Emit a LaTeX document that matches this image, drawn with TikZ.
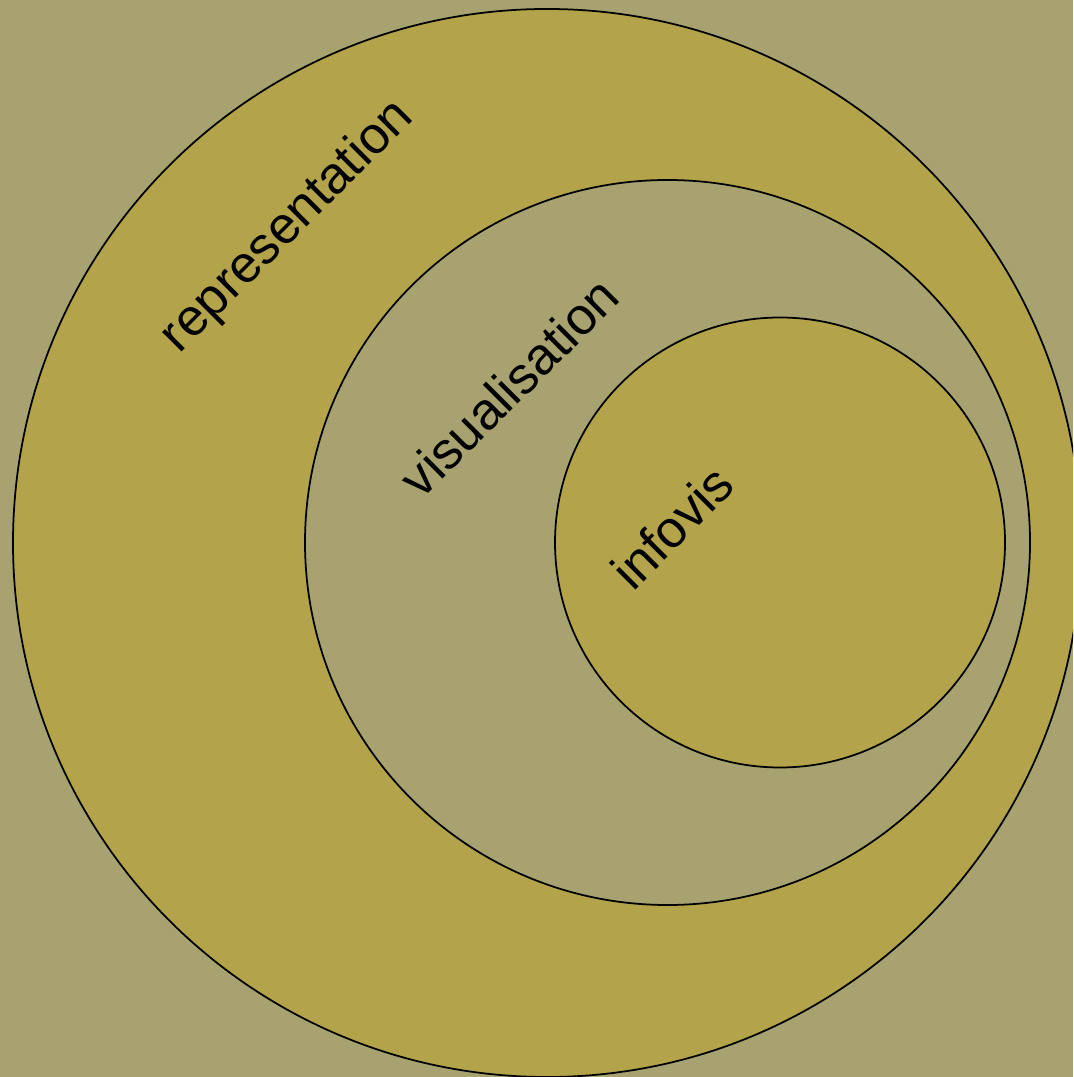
\documentclass[tikz,border=0pt]{standalone}
\usepackage{fontspec}
\setmainfont{Liberation Sans}
\definecolor{bgcol}{HTML}{A8A270}
\definecolor{ringcol}{HTML}{B3A34A}
\begin{document}
\begin{tikzpicture}[x=0.01cm,y=-0.01cm,
  ring/.style={draw=black,line width=0.5pt},
  lbl/.style={rotate=45,font=\fontsize{14.8pt}{16pt}\selectfont,inner sep=0pt}]
\useasboundingbox (0,0) rectangle (1073,1077);
\fill[bgcol] (0,0) rectangle (1073,1077);
\begin{scope}
\clip (0,0) rectangle (1073,1077);
\draw[ring,fill=ringcol] (547,543) circle[radius=534];
\end{scope}
\draw[ring,fill=bgcol] (667.5,542.5) circle[radius=362.5];
\draw[ring,fill=ringcol] (780,542.5) circle[radius=225];
\node[lbl] (rep) at (288,227) {representation};
\node[lbl] (vis) at (509,387) {visualisation};
\node[lbl] (inf) at (672,527) {infovis};
\end{tikzpicture}
\end{document}
